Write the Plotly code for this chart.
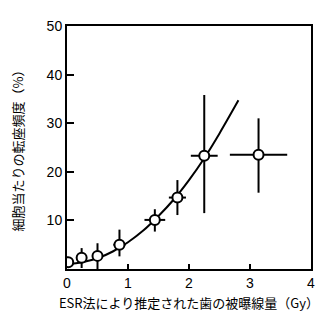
import plotly.graph_objects as go

# data points (dose by ESR, Gy) and translocation frequency (%)
dose = [0.02, 0.24, 0.50, 0.86, 1.44, 1.81, 2.25, 3.14]
freq = [1.4, 2.3, 2.7, 5.0, 10.1, 14.7, 23.3, 23.5]
freq_err_plus = [1.0, 2.0, 2.6, 3.1, 2.2, 3.6, 12.5, 7.5]
freq_err_minus = [1.0, 2.1, 2.7, 2.4, 2.4, 3.6, 11.8, 7.8]
dose_err = [0.0, 0.05, 0.0, 0.10, 0.17, 0.14, 0.22, 0.47]

# fitted curve
curve_x = [0.0, 0.25, 0.5, 0.75, 1.0, 1.25, 1.5, 1.75, 2.0, 2.25, 2.5, 2.81]
curve_y = [1.0, 1.4, 2.2, 3.6, 5.5, 7.9, 10.9, 14.3, 18.3, 22.8, 27.9, 34.7]

x_ticks = [0, 1, 2, 3, 4]
y_ticks = [10, 20, 30, 40, 50]

fig = go.Figure()
fig.add_trace(go.Scatter(
    x=curve_x, y=curve_y, mode="lines",
    line=dict(color="black", width=2, shape="spline"),
    hoverinfo="skip", showlegend=False))
fig.add_trace(go.Scatter(
    x=dose, y=freq, mode="markers",
    marker=dict(size=10, color="white", line=dict(color="black", width=2)),
    error_y=dict(type="data", array=freq_err_plus, arrayminus=freq_err_minus,
                 color="black", thickness=2, width=0),
    error_x=dict(type="data", array=dose_err, color="black", thickness=2, width=0),
    showlegend=False))

font_main = "Liberation Sans, Arial, sans-serif"
font_cjk = "Noto Sans CJK JP, sans-serif"

fig.update_layout(
    width=334, height=324,
    margin=dict(l=67, r=23, t=26, b=55),
    paper_bgcolor="white", plot_bgcolor="white",
    xaxis=dict(range=[0, 4], tickvals=x_ticks, ticks="inside", ticklen=5,
               tickwidth=2, tickcolor="black", showline=True, linecolor="black",
               linewidth=2, mirror=True, showgrid=False, zeroline=False,
               tickfont=dict(family=font_main, size=14, color="black"),
               title=dict(text="ESR法により推定された歯の被曝線量（Gy）",
                          font=dict(family=font_cjk, size=13, color="black"),
                          standoff=9)),
    yaxis=dict(range=[0, 50], tickvals=y_ticks, ticks="inside", ticklen=7,
               tickwidth=2, tickcolor="black", showline=True, linecolor="black",
               linewidth=2, mirror=True, showgrid=False, zeroline=False,
               tickfont=dict(family=font_main, size=14, color="black"),
               title=dict(text="細胞当たりの転座頻度（%）",
                          font=dict(family=font_cjk, size=13, color="black"),
                          standoff=20)),
)

fig.write_html("out.html")
